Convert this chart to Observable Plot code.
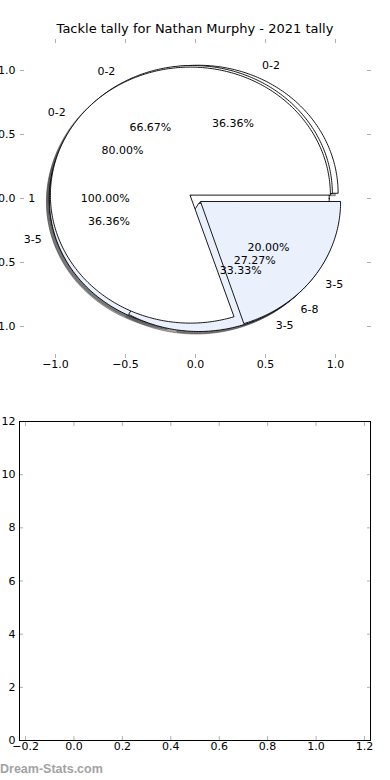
<!DOCTYPE html>
<html>
<head>
<meta charset="utf-8">
<script src="https://cdn.jsdelivr.net/npm/d3@7"></script>
<script src="https://cdn.jsdelivr.net/npm/@observablehq/plot@0.6"></script>
<style>
  html, body { margin: 0; padding: 0; background: #ffffff; }
  body { width: 390px; height: 780px; position: relative; overflow: hidden; font-family: "DejaVu Sans", sans-serif; }
  #pie { position: absolute; left: 0; top: 0; }
  #title { position: absolute; left: 0; top: 21px; width: 390px; text-align: center; font-size: 13px; line-height: 16px; color: #000; font-family: "DejaVu Sans", sans-serif; }
  #bars { position: absolute; left: 0; top: 400px; }
  #credit { position: absolute; left: 0; top: 762px; font-family: "Liberation Sans", Arial, sans-serif; font-weight: bold; font-size: 12.5px; line-height: 14px; color: #a3a3a3; }
</style>
</head>
<body>
<div id="pie"></div>
<div id="title"></div>
<div id="bars"></div>
<div id="credit"></div>
<script>
// ---- data ----
const chartTitle = "Tackle tally for Nathan Murphy - 2021 tally";
const creditText = "Dream-Stats.com";

const pie1Labels = ["1"];
const pie1Values = [1];
const pie2Labels = ["0-2", "3-5"];
const pie2Values = [2, 1];
const pie3Labels = ["0-2", "3-5"];
const pie3Values = [4, 1];
const pie4Labels = ["0-2", "3-5", "6-8"];
const pie4Values = [4, 4, 3];

const wedgeColors = ["#ffffff", "#eaf0fc", "#eaf0fc"];

const pieTicks = [-1, -0.5, 0, 0.5, 1];
const barXTicks = [-0.2, 0, 0.2, 0.4, 0.6, 0.8, 1.0, 1.2];
const barYTicks = [0, 2, 4, 6, 8, 10, 12];
const barCategories = [];
const barValues = [];

// ---- pie geometry (matplotlib-like: startangle 0, counter-clockwise) ----
const EXPLODE = 0.045, LABEL_R = 1.1, PCT_R = 0.6, SHADOW = 0.02;

function buildPie(labels, values, pid) {
  const total = d3.sum(values);
  let acc = 0;
  return values.map((v, i) => {
    const a1 = acc, a2 = acc + 360 * v / total;
    acc = a2;
    const mid = (a1 + a2) / 2 * Math.PI / 180;
    const cx = EXPLODE * Math.cos(mid), cy = EXPLODE * Math.sin(mid);
    const full = v === total;
    const pts = [];
    if (!full) pts.push({x: cx, y: cy});
    const n = Math.max(2, Math.ceil(a2 - a1));
    for (let k = 0; k <= n; k++) {
      const t = (a1 + (a2 - a1) * k / n) * Math.PI / 180;
      pts.push({x: cx + Math.cos(t), y: cy + Math.sin(t)});
    }
    const lx = cx + LABEL_R * Math.cos(mid), ly = cy + LABEL_R * Math.sin(mid);
    return {
      id: pid + "-" + i,
      color: wedgeColors[i % wedgeColors.length],
      pts,
      shadow: pts.map(p => ({x: p.x - SHADOW, y: p.y - SHADOW})),
      label: {x: lx, y: ly, text: labels[i], anchor: lx > 0 ? "start" : "end"},
      pct: {x: cx + PCT_R * Math.cos(mid), y: cy + PCT_R * Math.sin(mid), text: (100 * v / total).toFixed(2) + "%"}
    };
  });
}

// drawing order (last on top)
const pies = [
  buildPie(pie1Labels, pie1Values, "p1"),
  buildPie(pie4Labels, pie4Values, "p4"),
  buildPie(pie2Labels, pie2Values, "p2"),
  buildPie(pie3Labels, pie3Values, "p3")
];
const wedges = pies.flat();

const fmt1 = d3.format(".1f");
const tickGray = "#b0b0b0";

const pieMarks = [];
for (const w of wedges) {
  pieMarks.push(Plot.line(w.shadow, {x: "x", y: "y", curve: "linear-closed", fill: "#4d4d4d", fillOpacity: 0.5, stroke: "#4d4d4d", strokeOpacity: 0.5, strokeWidth: 1}));
}
for (const w of wedges) {
  pieMarks.push(Plot.line(w.pts, {x: "x", y: "y", curve: "linear-closed", fill: w.color, stroke: "#000", strokeWidth: 0.9}));
}
const labelData = wedges.map(w => w.label);
pieMarks.push(Plot.text(labelData.filter(d => d.anchor === "end"), {x: "x", y: "y", text: "text", textAnchor: "end", fill: "#000", fontSize: 11}));
pieMarks.push(Plot.text(labelData.filter(d => d.anchor === "start"), {x: "x", y: "y", text: "text", textAnchor: "start", fill: "#000", fontSize: 11}));
pieMarks.push(Plot.text(wedges.map(w => w.pct), {x: "x", y: "y", text: "text", textAnchor: "middle", fill: "#000", fontSize: 11}));

pieMarks.push(Plot.axisX({anchor: "bottom", ticks: pieTicks, tickSize: -4, tickPadding: 6, stroke: tickGray, fill: "#000", tickFormat: fmt1, label: null}));
pieMarks.push(Plot.axisX({anchor: "top", ticks: pieTicks, tickSize: -4, stroke: tickGray, tickFormat: () => "", label: null}));
pieMarks.push(Plot.axisY({anchor: "left", ticks: pieTicks, tickSize: -4, tickPadding: 9, stroke: tickGray, fill: "#000", tickFormat: fmt1, label: null}));
pieMarks.push(Plot.axisY({anchor: "right", ticks: pieTicks, tickSize: -4, tickFormat: () => "", stroke: tickGray, label: null}));

const pieChart = Plot.plot({
  width: 390, height: 390,
  marginLeft: 20, marginRight: 20, marginTop: 38, marginBottom: 32,
  x: {domain: [-1.25, 1.25], label: null},
  y: {domain: [-1.25, 1.25], label: null},
  style: {fontFamily: "DejaVu Sans", fontSize: "11px", background: "transparent", color: "#000"},
  marks: pieMarks
});
document.getElementById("pie").appendChild(pieChart);
document.getElementById("title").textContent = chartTitle;

// ---- bottom (empty) panel ----
const barData = barCategories.map((c, i) => ({x: c, y: barValues[i]}));
const barChart = Plot.plot({
  width: 390, height: 360,
  marginLeft: 19, marginRight: 20, marginTop: 21, marginBottom: 20,
  x: {domain: [-0.225, 1.225], label: null},
  y: {domain: [0, 12], label: null},
  style: {fontFamily: "DejaVu Sans", fontSize: "11px", background: "transparent", color: "#000"},
  marks: [
    Plot.rectY(barData, {x1: "x", x2: d => d.x + 0.8, y: "y", fill: "#eaf0fc", stroke: "#000"}),
    Plot.axisX({anchor: "bottom", ticks: barXTicks, tickSize: -4, tickPadding: 6, stroke: tickGray, fill: "#000", tickFormat: fmt1, label: null}),
    Plot.axisX({anchor: "top", ticks: barXTicks, tickSize: -4, stroke: tickGray, tickFormat: () => "", label: null}),
    Plot.axisY({anchor: "left", ticks: barYTicks, tickSize: -4, tickPadding: 8, stroke: tickGray, fill: "#000", tickFormat: d3.format("d"), label: null}),
    Plot.axisY({anchor: "right", ticks: barYTicks, tickSize: -4, stroke: tickGray, tickFormat: () => "", label: null}),
    Plot.frame({stroke: "#000", strokeWidth: 1})
  ]
});
document.getElementById("bars").appendChild(barChart);
document.getElementById("credit").textContent = creditText;
</script>
</body>
</html>
